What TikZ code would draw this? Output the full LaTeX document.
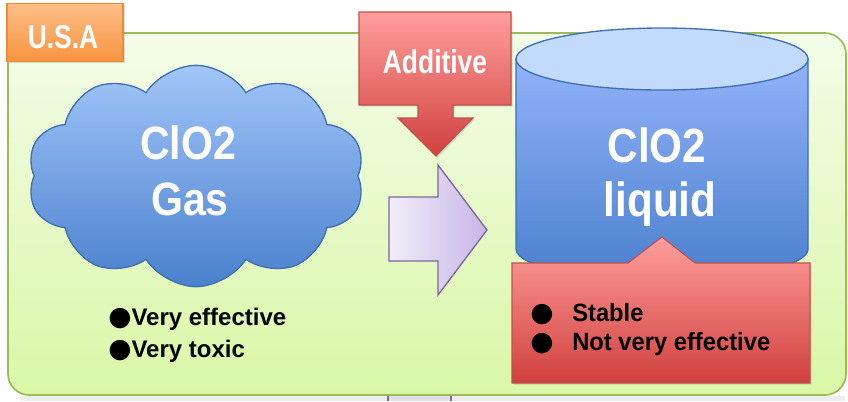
\documentclass[tikz,border=0pt]{standalone}
\usepackage{fontspec}
\setmainfont{Liberation Sans}
\newfontfamily\narr[FakeStretch=0.8]{Liberation Sans}
\newfontfamily\semi[FakeStretch=0.88]{Liberation Sans}
\newfontfamily\callf[FakeStretch=0.95]{Liberation Sans}
\newfontfamily\dejavu{DejaVu Sans}
\usetikzlibrary{shapes.symbols,shadows}
\definecolor{bgtop}{HTML}{F3FCE8}
\definecolor{bgbot}{HTML}{DAF7A6}
\definecolor{bgline}{HTML}{9BBB59}
\definecolor{ortop}{HTML}{FEBE88}
\definecolor{orbot}{HTML}{F7943F}
\definecolor{orline}{HTML}{F08A30}
\definecolor{rdtop}{HTML}{FF9E9C}
\definecolor{rdbot}{HTML}{D0413E}
\definecolor{rdline}{HTML}{C0504D}
\definecolor{bltop}{HTML}{A2C6F9}
\definecolor{blbot}{HTML}{4A80CD}
\definecolor{blline}{HTML}{3E70B2}
\definecolor{bllid}{HTML}{C2DAFB}
\definecolor{pplft}{HTML}{F1EDFA}
\definecolor{pprgt}{HTML}{C7B6E6}
\definecolor{ppline}{HTML}{8064A2}
\newcommand{\bul}{{\dejavu\fontsize{20}{20}\selectfont ●}}
\tikzset{
  soft/.style={drop shadow={opacity=0.25,shadow xshift=1.2pt,shadow yshift=-1.2pt}},
  whitebig/.style={text=white,anchor=base,inner sep=0pt},
  blacktxt/.style={text=black,anchor=base west,inner sep=0pt,font=\bfseries\fontsize{18}{20}\selectfont},
}
\begin{document}
\begin{tikzpicture}[x=0.75pt,y=-0.75pt]
\useasboundingbox (0,0) rectangle (848,401);
% bits below the frame
\fill[black!7] (20,396) rectangle (845,401);
\fill[ppline!22] (388,396) rectangle (451,401);
\draw[ppline,line width=0.8pt] (388,396) -- (388,401) (451,396) -- (451,401);
% green background
\path[top color=bgtop,bottom color=bgbot,draw=bgline,line width=1.3pt,rounded corners=16pt]
  (8,33) rectangle (846,395);
% U.S.A label
\node[soft,draw=orline,line width=0.8pt,top color=ortop,bottom color=orbot,
  minimum width=87pt,minimum height=44pt,inner sep=0pt] (usabox) at (65,32.5) {};
\node[whitebig,font=\narr\bfseries\fontsize{24.75}{28}\selectfont] (usa) at (63,48) {U.S.A};
% cloud
\node[cloud,cloud puffs=10,cloud puff arc=115,cloud ignores aspect,
  minimum width=253pt,minimum height=166pt,top color=bltop,bottom color=blbot,
  draw=blline,line width=1pt,inner sep=0pt] (cloud) at (196,176) {};
\node[whitebig,font=\semi\bfseries\fontsize{35}{40}\selectfont] (gas1) at (188,159) {ClO2};
\node[whitebig,font=\semi\bfseries\fontsize{35}{40}\selectfont] (gas2) at (190,215) {Gas};
% bullets left
\node[blacktxt] (l1) at (108,325) {\bul Very effective};
\node[blacktxt] (l2) at (108,357) {\bul Very toxic};
% purple arrow
\path[left color=pplft,right color=pprgt,draw=ppline,line width=1pt,line join=miter]
  (389,197) -- (438,197) -- (438,165) -- (487,230) -- (438,295) -- (438,261) -- (389,261) -- cycle;
% additive arrow
\path[soft,top color=rdtop,bottom color=rdbot,draw=rdline,line width=0.8pt]
  (359,12) -- (511,12) -- (511,105) -- (453,105) -- (453,118) -- (473,118) -- (436,156)
  -- (398,118) -- (418,118) -- (418,105) -- (359,105) -- cycle;
\node[whitebig,font=\narr\bfseries\fontsize{24.75}{28}\selectfont] (add) at (435,73) {Additive};
% cylinder
\path[top color=bltop!90!blue,bottom color=blbot,draw=blline,line width=1pt]
  (516,59) -- (516,249) arc[start angle=180,end angle=0,x radius=146,y radius=31] -- (808,59) -- cycle;
\path[fill=bllid,draw=blline,line width=1pt] (662,59) ellipse[x radius=146,y radius=31];
\node[whitebig,font=\semi\bfseries\fontsize{36}{40}\selectfont] (liq1) at (657,162) {ClO2};
\node[whitebig,font=\semi\bfseries\fontsize{36}{40}\selectfont] (liq2) at (660,216) {liquid};
% callout
\path[soft,top color=rdtop,bottom color=rdbot,draw=rdline,line width=0.8pt]
  (512,263) -- (628,263) -- (662,237) -- (695,263) -- (810,263) -- (810,383) -- (512,383) -- cycle;
\node[blacktxt,font=\callf\bfseries\fontsize{18.75}{20}\selectfont] (r1) at (530,321) {\makebox[31.5pt][l]{\bul}Stable};
\node[blacktxt,font=\callf\bfseries\fontsize{18.75}{20}\selectfont] (r2) at (530,350) {\makebox[31.5pt][l]{\bul}Not very effective};
\end{tikzpicture}
\end{document}
